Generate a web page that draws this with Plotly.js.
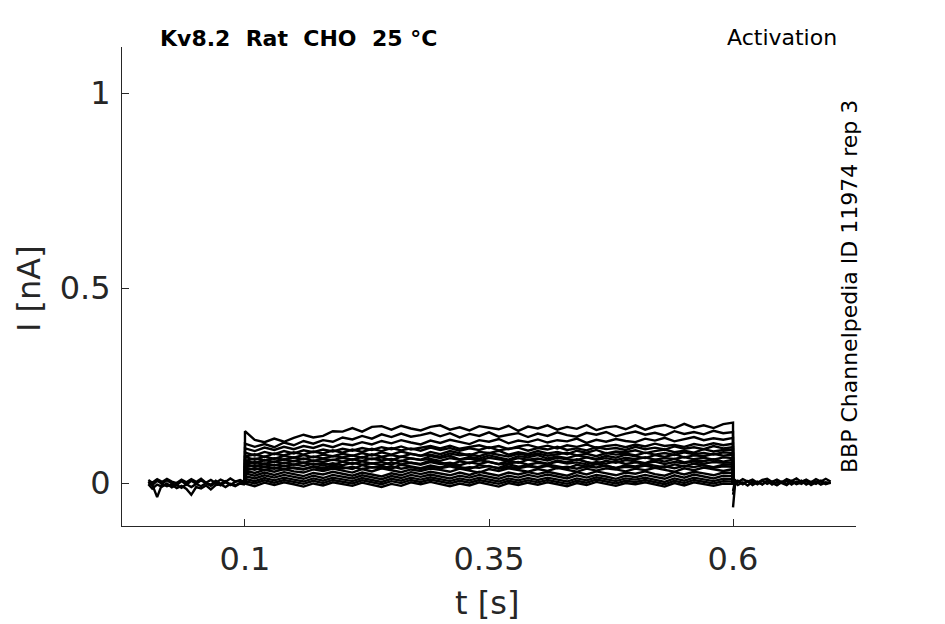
<!DOCTYPE html>
<html>
<head>
<meta charset="utf-8">
<script src="https://cdn.plot.ly/plotly-3.0.1.min.js"></script>
<style>html,body{margin:0;padding:0;background:#fff;}#chart{width:945px;height:624px;}</style>
</head>
<body>
<div id="chart"></div>
<script>
// ---- Data ----
const titleText = "Kv8.2  Rat  CHO  25 °C";
const protocolText = "Activation";
const sourceText = "BBP Channelpedia ID 11974 rep 3";
const xTickVals = [0.1, 0.35, 0.6];
const xTickText = ["0.1", "0.35", "0.6"];
const yTickVals = [0, 0.5, 1];
const yTickText = ["0", "0.5", "1"];

// time [s] before the step
const tPre = [0.001,0.005,0.010,0.015,0.020,0.025,0.030,0.035,0.040,0.045,0.050,0.055,0.060,0.065,0.070,0.075,0.080,0.085,0.090,0.095,0.100];
const preA = [0.004,-0.005,0.006,-0.002,0.007,-0.001,-0.005,0.005,-0.004,0.006,-0.002,0.007,0.000,-0.004,0.006,-0.002,0.005,-0.005,0.003,0.006,0.000];
const preB = [-0.003,-0.014,-0.004,-0.009,-0.001,-0.011,-0.005,-0.012,-0.003,-0.010,-0.002,-0.008,0.000,-0.007,0.001,-0.006,0.002,-0.004,-0.008,-0.001,-0.004];
const preC = [0.000,-0.004,-0.036,-0.003,-0.008,-0.004,-0.013,-0.007,-0.015,-0.030,-0.010,-0.014,-0.006,-0.016,-0.005,-0.003,-0.010,-0.002,-0.006,0.001,-0.002];
const preD = [0.008,0.001,0.010,0.003,0.011,0.004,0.000,0.009,0.002,0.010,0.003,0.011,0.001,0.008,0.000,0.009,0.003,0.012,0.004,0.008,0.002];

// time [s] during the voltage step (first / last entries are the jump from / to baseline)
const tStep = [0.100,0.100,0.110,0.120,0.130,0.140,0.150,0.160,0.170,0.180,0.190,
  0.200,0.210,0.220,0.230,0.240,0.250,0.260,0.270,0.280,0.290,
  0.300,0.310,0.320,0.330,0.340,0.350,0.360,0.370,0.380,0.390,
  0.400,0.410,0.420,0.430,0.440,0.450,0.460,0.470,0.480,0.490,
  0.500,0.510,0.520,0.530,0.540,0.550,0.560,0.570,0.580,0.590,0.600,0.600];

const step1 = [0,0.133,0.111,0.105,0.114,0.106,0.116,0.124,0.117,0.121,0.133,
  0.132,0.141,0.132,0.144,0.146,0.137,0.147,0.140,0.135,0.144,
  0.148,0.137,0.143,0.135,0.146,0.142,0.138,0.147,0.134,0.145,
  0.140,0.148,0.137,0.144,0.139,0.149,0.136,0.143,0.146,0.138,
  0.148,0.137,0.145,0.149,0.141,0.152,0.142,0.148,0.141,0.151,0.155,0];
const step2 = [0,0.101,0.093,0.100,0.092,0.104,0.097,0.108,0.101,0.110,0.106,
  0.117,0.112,0.121,0.114,0.125,0.118,0.127,0.119,0.123,0.129,
  0.120,0.128,0.117,0.126,0.121,0.130,0.119,0.124,0.128,0.118,
  0.127,0.121,0.130,0.123,0.119,0.129,0.124,0.131,0.120,0.127,
  0.132,0.124,0.129,0.122,0.133,0.126,0.131,0.125,0.134,0.128,0.131,0];
const step3 = [0,0.089,0.082,0.091,0.085,0.093,0.087,0.095,0.090,0.098,0.092,
  0.101,0.097,0.105,0.099,0.108,0.102,0.110,0.104,0.099,0.109,
  0.103,0.111,0.105,0.100,0.110,0.106,0.113,0.102,0.109,0.105,
  0.112,0.104,0.110,0.107,0.114,0.103,0.111,0.106,0.113,0.108,
  0.105,0.114,0.109,0.116,0.107,0.112,0.118,0.110,0.115,0.111,0.116,0];
const step4 = [0,0.078,0.071,0.080,0.074,0.082,0.076,0.084,0.079,0.086,0.081,
  0.088,0.083,0.090,0.085,0.092,0.087,0.094,0.086,0.091,0.095,
  0.089,0.096,0.088,0.093,0.097,0.090,0.095,0.087,0.094,0.098,
  0.091,0.096,0.089,0.097,0.093,0.099,0.090,0.095,0.098,0.092,
  0.099,0.094,0.101,0.095,0.098,0.093,0.100,0.096,0.102,0.097,0.101,0];
const stepM1 = [0,0.068,0.074,0.067,0.076,0.071,0.079,0.073,0.081,0.076,0.084,
  0.078,0.086,0.080,0.088,0.082,0.090,0.084,0.089,0.083,0.091,
  0.085,0.090,0.083,0.089,0.085,0.092,0.084,0.088,0.091,0.083,
  0.090,0.086,0.093,0.085,0.089,0.084,0.092,0.087,0.090,0.085,
  0.093,0.087,0.091,0.086,0.094,0.088,0.092,0.087,0.095,0.089,0.092,0];
const step5 = [0,0.067,0.060,0.068,0.062,0.070,0.065,0.072,0.066,0.073,0.069,
  0.075,0.070,0.077,0.071,0.079,0.073,0.081,0.075,0.070,0.080,
  0.074,0.082,0.076,0.071,0.080,0.077,0.083,0.073,0.079,0.075,
  0.082,0.076,0.080,0.074,0.083,0.078,0.085,0.076,0.081,0.079,
  0.084,0.077,0.082,0.086,0.079,0.083,0.078,0.087,0.081,0.085,0.086,0];
const stepM2 = [0,0.057,0.063,0.058,0.064,0.060,0.066,0.061,0.068,0.063,0.069,
  0.066,0.071,0.065,0.074,0.068,0.072,0.067,0.075,0.070,0.073,
  0.068,0.076,0.071,0.074,0.069,0.077,0.072,0.068,0.075,0.071,
  0.076,0.070,0.074,0.078,0.071,0.075,0.069,0.077,0.073,0.076,
  0.071,0.078,0.073,0.077,0.072,0.079,0.074,0.077,0.073,0.079,0.077,0];
const step6 = [0,0.058,0.051,0.059,0.054,0.061,0.056,0.063,0.057,0.062,0.059,
  0.065,0.060,0.067,0.061,0.066,0.058,0.068,0.063,0.060,0.069,
  0.064,0.070,0.061,0.067,0.063,0.071,0.065,0.060,0.069,0.066,
  0.072,0.063,0.068,0.064,0.071,0.067,0.062,0.070,0.065,0.073,
  0.068,0.064,0.072,0.067,0.074,0.066,0.071,0.069,0.075,0.070,0.073,0];
const stepM3 = [0,0.048,0.054,0.049,0.055,0.051,0.057,0.052,0.058,0.054,0.060,
  0.055,0.061,0.057,0.063,0.058,0.062,0.056,0.064,0.059,0.062,
  0.057,0.064,0.060,0.063,0.058,0.065,0.061,0.057,0.064,0.060,
  0.063,0.058,0.065,0.061,0.059,0.066,0.060,0.064,0.059,0.065,
  0.061,0.066,0.060,0.064,0.062,0.067,0.061,0.065,0.060,0.066,0.064,0];
const step7 = [0,0.049,0.042,0.050,0.045,0.052,0.047,0.053,0.048,0.051,0.046,
  0.055,0.049,0.056,0.050,0.054,0.047,0.057,0.052,0.049,0.058,
  0.053,0.047,0.056,0.051,0.059,0.054,0.049,0.057,0.052,0.060,
  0.055,0.050,0.058,0.053,0.061,0.054,0.049,0.057,0.052,0.059,
  0.056,0.051,0.060,0.055,0.062,0.053,0.058,0.056,0.061,0.055,0.060,0];
const stepM4 = [0,0.041,0.046,0.042,0.047,0.043,0.048,0.044,0.050,0.045,0.051,
  0.046,0.052,0.047,0.051,0.046,0.053,0.048,0.052,0.047,0.054,
  0.049,0.052,0.046,0.053,0.049,0.055,0.048,0.051,0.054,0.047,
  0.052,0.049,0.055,0.050,0.053,0.048,0.054,0.050,0.056,0.049,
  0.053,0.050,0.055,0.049,0.054,0.051,0.056,0.050,0.054,0.052,0.053,0];
const step8 = [0,0.040,0.034,0.042,0.037,0.044,0.038,0.035,0.043,0.039,0.045,
  0.041,0.036,0.046,0.040,0.043,0.037,0.047,0.042,0.038,0.045,
  0.040,0.047,0.041,0.036,0.046,0.043,0.039,0.048,0.042,0.045,
  0.041,0.048,0.043,0.038,0.047,0.042,0.049,0.044,0.039,0.046,
  0.043,0.049,0.044,0.040,0.048,0.043,0.050,0.045,0.041,0.047,0.048,0];
const stepM5 = [0,0.033,0.038,0.034,0.039,0.035,0.040,0.036,0.041,0.035,0.040,
  0.037,0.042,0.036,0.041,0.038,0.043,0.037,0.041,0.036,0.042,
  0.038,0.043,0.037,0.041,0.039,0.044,0.037,0.042,0.038,0.043,
  0.039,0.044,0.038,0.042,0.037,0.043,0.040,0.045,0.038,0.042,
  0.040,0.045,0.039,0.043,0.038,0.044,0.041,0.046,0.039,0.043,0.042,0];
const step9 = [0,0.032,0.026,0.034,0.029,0.036,0.030,0.027,0.035,0.031,0.037,
  0.032,0.027,0.036,0.030,0.038,0.033,0.028,0.035,0.031,0.037,
  0.034,0.029,0.037,0.032,0.027,0.036,0.031,0.038,0.033,0.029,
  0.036,0.031,0.039,0.034,0.029,0.037,0.032,0.038,0.035,0.030,
  0.037,0.033,0.039,0.034,0.029,0.038,0.033,0.040,0.035,0.031,0.036,0];
const step10 = [0,0.025,0.019,0.027,0.021,0.028,0.023,0.018,0.026,0.022,0.029,
  0.024,0.019,0.027,0.022,0.017,0.025,0.020,0.028,0.023,0.029,
  0.025,0.020,0.027,0.021,0.029,0.024,0.019,0.027,0.022,0.028,
  0.023,0.029,0.024,0.019,0.028,0.022,0.030,0.025,0.020,0.027,
  0.024,0.030,0.023,0.019,0.028,0.022,0.029,0.025,0.020,0.027,0.026,0];
const step11 = [0,0.018,0.012,0.020,0.014,0.021,0.016,0.011,0.019,0.013,0.021,
  0.017,0.012,0.020,0.015,0.010,0.018,0.013,0.021,0.016,0.022,
  0.017,0.012,0.019,0.014,0.021,0.016,0.011,0.019,0.014,0.021,
  0.016,0.022,0.017,0.012,0.020,0.014,0.021,0.017,0.011,0.019,
  0.015,0.021,0.016,0.011,0.020,0.014,0.022,0.017,0.012,0.019,0.018,0];
const step12 = [0,0.011,0.005,0.013,0.007,0.014,0.009,0.004,0.012,0.006,0.014,
  0.010,0.005,0.013,0.008,0.003,0.011,0.006,0.014,0.009,0.015,
  0.010,0.005,0.012,0.007,0.014,0.009,0.004,0.012,0.007,0.013,
  0.008,0.014,0.009,0.004,0.012,0.007,0.015,0.010,0.005,0.012,
  0.009,0.014,0.008,0.003,0.012,0.006,0.014,0.010,0.005,0.011,0.010,0];
const step13 = [0,0.005,-0.001,0.007,0.001,0.008,0.003,-0.002,0.006,0.000,0.008,
  0.004,-0.001,0.007,0.002,-0.003,0.005,0.000,0.008,0.003,0.009,
  0.004,-0.001,0.006,0.001,0.008,0.003,-0.002,0.006,0.001,0.007,
  0.002,0.008,0.003,-0.002,0.006,0.001,0.009,0.004,-0.001,0.006,
  0.003,0.008,0.002,-0.003,0.006,0.000,0.008,0.004,-0.001,0.005,0.004,0];
const step14 = [0,-0.001,-0.008,0.001,-0.005,0.002,-0.003,-0.009,-0.001,-0.006,0.002,
  -0.002,-0.007,0.001,-0.004,-0.010,-0.002,-0.007,0.002,-0.003,0.003,
  -0.002,-0.008,-0.001,-0.006,0.002,-0.003,-0.009,0.000,-0.005,0.001,
  -0.004,0.002,-0.003,-0.008,0.000,-0.005,0.003,-0.002,-0.007,0.000,
  -0.003,0.002,-0.004,-0.009,0.000,-0.006,0.002,-0.002,-0.007,-0.001,-0.002,0];

// time [s] after the step
const tPost = [0.600,0.602,0.605,0.610,0.615,0.620,0.625,0.630,0.635,0.640,0.645,0.650,0.655,0.660,0.665,0.670,0.675,0.680,0.685,0.690,0.695,0.700];
const postA = [-0.062,-0.006,0.004,-0.003,0.005,-0.002,0.004,-0.004,0.005,0.000,-0.005,0.004,-0.002,0.005,-0.003,0.002,0.006,-0.002,0.004,-0.004,0.002,0.000];
const postB = [-0.020,0.005,-0.005,0.002,-0.006,0.004,-0.003,0.006,-0.002,0.004,-0.005,0.002,0.006,-0.004,0.004,-0.002,0.005,-0.005,0.002,0.005,-0.003,0.001];
const postC = [-0.030,-0.002,0.006,-0.001,0.005,-0.005,0.002,-0.003,0.006,-0.004,0.003,0.000,-0.005,0.005,-0.001,0.006,-0.004,0.003,-0.002,0.006,-0.001,0.002];
const postD = [0.000,0.008,0.002,0.010,0.004,0.009,0.001,0.008,0.011,0.003,0.009,0.002,0.010,0.005,0.012,0.003,0.009,0.002,0.010,0.004,0.011,0.004];

const preSweeps = [preA, preB, preC, preD];
const stepSweeps = [step14, step13, step12, step11, step10, step9, stepM5, step8, stepM4, step7, stepM3, step6, stepM2, step5, stepM1, step4, step3, step2, step1];
const postSweeps = [postA, postB, postC, postD];

// ---- Build traces ----
const lineStyle = {color: '#000000', width: 2.4};
const traces = [];
preSweeps.forEach(y => traces.push({x: tPre, y: y, type: 'scatter', mode: 'lines', line: lineStyle, hoverinfo: 'skip'}));
stepSweeps.forEach(y => traces.push({x: tStep, y: y, type: 'scatter', mode: 'lines', line: lineStyle, hoverinfo: 'skip'}));
postSweeps.forEach(y => traces.push({x: tPost, y: y, type: 'scatter', mode: 'lines', line: lineStyle, hoverinfo: 'skip'}));

const axisColor = '#262626';
const tickFont = {family: 'DejaVu Sans', size: 32, color: axisColor};

const layout = {
  width: 945, height: 624,
  margin: {l: 122, r: 89, t: 47, b: 98, pad: 0},
  paper_bgcolor: '#ffffff', plot_bgcolor: '#ffffff',
  showlegend: false,
  xaxis: {
    range: [-0.026, 0.726], tickvals: xTickVals, ticktext: xTickText,
    ticks: 'inside', ticklen: 7, tickwidth: 1, tickcolor: axisColor,
    showline: true, linecolor: axisColor, linewidth: 1,
    showgrid: false, zeroline: false, tickfont: tickFont,
    ticklabelstandoff: 5
  },
  yaxis: {
    range: [-0.110, 1.118], tickvals: yTickVals, ticktext: yTickText,
    ticks: 'inside', ticklen: 7, tickwidth: 1, tickcolor: axisColor,
    showline: true, linecolor: axisColor, linewidth: 1,
    showgrid: false, zeroline: false, tickfont: tickFont,
    ticklabelstandoff: 4
  },
  annotations: [
    {text: '<b>' + titleText + '</b>', xref: 'paper', yref: 'paper', x: (158-122)/734, y: 1 + (47-39)/479,
     xanchor: 'left', yanchor: 'middle', showarrow: false, font: {family: 'DejaVu Sans', size: 22, color: '#000'}},
    {text: protocolText, xref: 'paper', yref: 'paper', x: (839-122)/734, y: 1 + (47-38)/479,
     xanchor: 'right', yanchor: 'middle', showarrow: false, font: {family: 'DejaVu Sans', size: 22, color: '#000'}},
    {text: sourceText, xref: 'paper', yref: 'paper', x: (849-122)/734, y: (526-287)/479,
     xanchor: 'center', yanchor: 'middle', textangle: -90, showarrow: false, font: {family: 'DejaVu Sans', size: 22, color: '#000'}},
    {text: 't [s]', xref: 'paper', yref: 'paper', x: (487-122)/734, y: -(603-526)/479,
     xanchor: 'center', yanchor: 'middle', showarrow: false, font: {family: 'DejaVu Sans', size: 32, color: axisColor}},
    {text: 'I [nA]', xref: 'paper', yref: 'paper', x: -(122-29)/734, y: (526-288)/479,
     xanchor: 'center', yanchor: 'middle', textangle: -90, showarrow: false, font: {family: 'DejaVu Sans', size: 32, color: axisColor}}
  ]
};

Plotly.newPlot('chart', traces, layout, {displayModeBar: false, staticPlot: true});
</script>
</body>
</html>
